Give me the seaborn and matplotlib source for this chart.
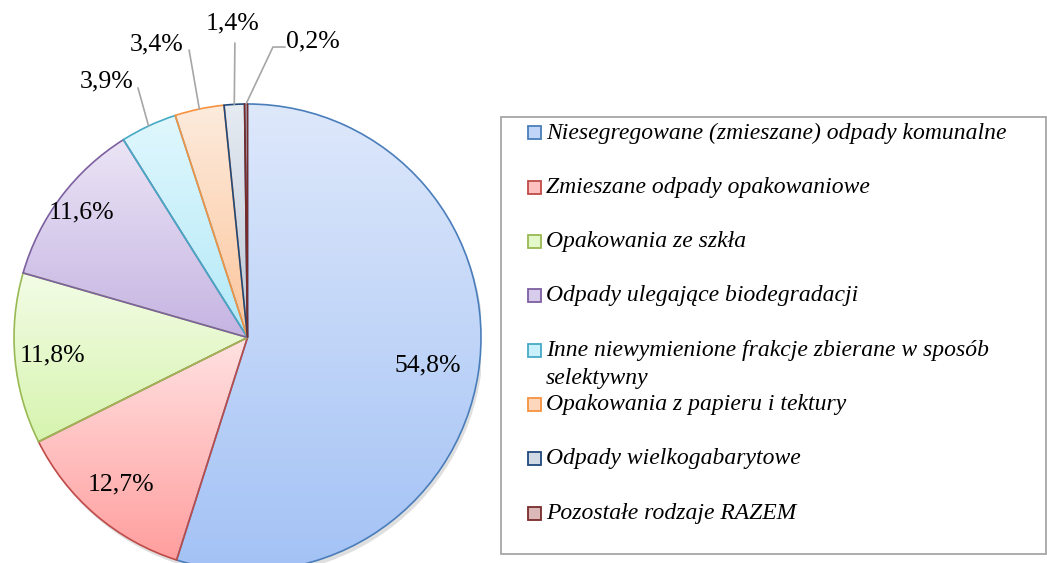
import numpy as np
import matplotlib
matplotlib.use('Agg')
import matplotlib.pyplot as plt
import seaborn as sns
from matplotlib.colors import LinearSegmentedColormap, to_rgb
from matplotlib.patches import Rectangle, Circle

# Dane
categories = [
    'Niesegregowane (zmieszane) odpady komunalne',
    'Zmieszane odpady opakowaniowe',
    'Opakowania ze szkła',
    'Odpady ulegające biodegradacji',
    'Inne niewymienione frakcje zbierane w sposób\nselektywny',
    'Opakowania z papieru i tektury',
    'Odpady wielkogabarytowe',
    'Pozostałe rodzaje RAZEM',
]
values = [54.8, 12.7, 11.8, 11.6, 3.9, 3.4, 1.4, 0.2]

# Kolory (krawędź, gradient góra -> dół)
edge_colors = ['#4A7EBB', '#BE4B48', '#98B954', '#7D60A0', '#46AAC5', '#F69240', '#1F497D', '#772C2A']
top_colors = ['#DEE8FB', '#FFE2E2', '#F3FCE6', '#EBE4F5', '#E0F7FD', '#FDEBDD', '#E6EBF2', '#EBD5D5']
bottom_colors = ['#A3C2F5', '#FF9E9E', '#D6F4AE', '#C5B4E2', '#B3E9F8', '#FCC59B', '#BCC7D6', '#C99C9B']

sns.set_theme(style="white")
plt.rcParams['font.family'] = ['Liberation Serif', 'DejaVu Serif']

W, H = 1047, 563
fig = plt.figure(figsize=(W / 100, H / 100), dpi=100)
fig.patch.set_facecolor('white')

def fx(px):
    return px / W

def fy(py):
    return 1 - py / H

# Wykres kołowy
ax = fig.add_axes([14 / W, -8 / H, 467 / W, 467 / H])
ax.add_patch(Circle((0.01, -0.018), 1.0, color='#808080', alpha=0.25, zorder=1, lw=0))
wedges, _ = ax.pie(values, startangle=90, counterclock=False, radius=1,
                   wedgeprops=dict(linewidth=1.2, zorder=3))

for w, ec, c0, c1 in zip(wedges, edge_colors, top_colors, bottom_colors):
    w.set_facecolor('none')
    w.set_edgecolor(ec)
    ext = w.get_path().get_extents()
    cmap = LinearSegmentedColormap.from_list('g', [c0, c1])
    im = ax.imshow(np.linspace(0, 1, 256).reshape(-1, 1), cmap=cmap,
                   extent=[ext.x0, ext.x1, ext.y0, ext.y1], origin='upper',
                   aspect='auto', zorder=2, interpolation='bilinear')
    im.set_clip_path(w)

def pct(v):
    return f'{v:.1f}'.replace('.', ',') + '%'

# Etykiety wewnątrz
inner_r = [0.78, 0.83, 0.84, 0.89]
for w, v, r in zip(wedges[:4], values[:4], inner_r):
    th = np.deg2rad((w.theta1 + w.theta2) / 2)
    ax.text(r * np.cos(th), r * np.sin(th), pct(v), ha='center', va='center',
            fontsize=18.5, color='black', zorder=5)

# Etykiety na zewnątrz z liniami
outer_pos = [(-0.602, 1.098), (-0.388, 1.257), (-0.062, 1.343), (0.281, 1.266)]
leader_ends = [[(-0.469, 1.069)], [(-0.25, 1.231)], [(-0.054, 1.261)],
               [(0.109, 1.244), (0.161, 1.244)]]
for w, v, pos, ends in zip(wedges[4:], values[4:], outer_pos, leader_ends):
    th = np.deg2rad((w.theta1 + w.theta2) / 2)
    pts = [(np.cos(th), np.sin(th))] + ends
    ax.plot([p[0] for p in pts], [p[1] for p in pts], color='#A6A6A6', lw=1.2,
            clip_on=False, zorder=4)
    ax.text(pos[0], pos[1], pct(v), ha='center', va='center', fontsize=18.5,
            color='black', zorder=5)

ax.set_xlim(-1, 1)
ax.set_ylim(-1, 1)
ax.axis('off')

# Legenda
fig.add_artist(Rectangle((fx(501), fy(554)), (1046 - 501) / W, (554 - 117) / H,
                         transform=fig.transFigure, facecolor='none',
                         edgecolor='#A6A6A6', lw=1.3))
for i, (lab, ec, c0, c1) in enumerate(zip(categories, edge_colors, top_colors, bottom_colors)):
    yc = 133 + i * 54.3
    mid = tuple((np.array(to_rgb(c0)) + np.array(to_rgb(c1))) / 2)
    fig.add_artist(Rectangle((fx(528), fy(yc + 6.5)), 13 / W, 13 / H,
                             transform=fig.transFigure, facecolor=mid,
                             edgecolor=ec, lw=1.3))
    for k, line in enumerate(lab.split('\n')):
        fig.text(fx(546), fy(yc + k * 28), line, ha='left', va='center',
                 fontsize=17, style='italic', color='black')

fig.savefig('out.png', dpi=100)
